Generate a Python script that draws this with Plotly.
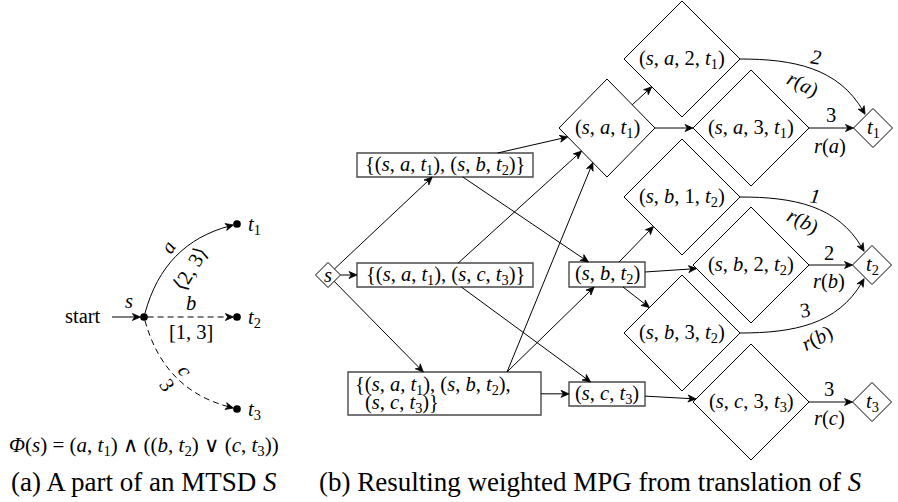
import math
import plotly.graph_objects as go

W, H = 898, 502
FONT = "Liberation Serif, DejaVu Serif, Times New Roman, serif"
NODE_FS = 20.5
FORM_FS = 21
CAP_FS = 27


def v(s):
    return f"<i>{s}</i>"


def t(i):
    return f"<i>t</i><sub>{i}</sub>"


# ---------------- (a) MTSD part ----------------
a_state_names = ["s", "t1", "t2", "t3"]
a_state_labels = ["", t(1), t(2), t(3)]
a_state_pos = {"s": (144, 317), "t1": (237, 224), "t2": (237, 317), "t3": (237, 409)}
a_trans_src = ["s", "s", "s"]
a_trans_dst = ["t1", "t2", "t3"]
a_trans_action = [v("a"), v("b"), v("c")]
a_trans_interval = ["⟨2, 3⟩", "[1, 3]", "3"]
a_trans_dashed = [False, True, True]
a_trans_bend = [30, 0, -30]
a_formula = (f"<i>Φ</i>({v('s')}) = ({v('a')}, {t(1)}) ∧ "
             f"(({v('b')}, {t(2)}) ∨ ({v('c')}, {t(3)}))")
caption_a = f"(a) A part of an MTSD {v('S')}"

# ---------------- (b) MPG ----------------
b_nodes = [
    ("s0", v("s"), "diamond"),
    ("B1", f"{{({v('s')}, {v('a')}, {t(1)}), ({v('s')}, {v('b')}, {t(2)})}}", "box"),
    ("B2", f"{{({v('s')}, {v('a')}, {t(1)}), ({v('s')}, {v('c')}, {t(3)})}}", "box"),
    ("B3", "", "box"),
    ("sat1", f"({v('s')}, {v('a')}, {t(1)})", "diamond"),
    ("sbt2", f"({v('s')}, {v('b')}, {t(2)})", "box"),
    ("sct3", f"({v('s')}, {v('c')}, {t(3)})", "box"),
    ("sa2", f"({v('s')}, {v('a')}, 2, {t(1)})", "diamond"),
    ("sa3", f"({v('s')}, {v('a')}, 3, {t(1)})", "diamond"),
    ("sb1", f"({v('s')}, {v('b')}, 1, {t(2)})", "diamond"),
    ("sb2", f"({v('s')}, {v('b')}, 2, {t(2)})", "diamond"),
    ("sb3", f"({v('s')}, {v('b')}, 3, {t(2)})", "diamond"),
    ("sc3", f"({v('s')}, {v('c')}, 3, {t(3)})", "diamond"),
    ("T1", t(1), "diamond"),
    ("T2", t(2), "diamond"),
    ("T3", t(3), "diamond"),
]
B3_lines = [f"{{({v('s')}, {v('a')}, {t(1)}), ({v('s')}, {v('b')}, {t(2)}),",
            f"({v('s')}, {v('c')}, {t(3)})}}"]

# layout of nodes: center x, center y, half width, half height
b_geom = {
    "s0": (328, 275, 12.5, 12.5),
    "B1": (445, 165, 88, 12),
    "B2": (445, 275, 88, 12),
    "B3": (444.5, 393.5, 96.5, 21.5),
    "sat1": (607, 128, 48, 49),
    "sbt2": (607, 274.5, 38, 12.5),
    "sct3": (607, 394, 38, 12),
    "sa2": (682, 59, 58, 58),
    "sa3": (751, 128, 58, 58),
    "sb1": (682, 197, 58, 58),
    "sb2": (751, 265, 58, 58),
    "sb3": (682, 333, 58, 58),
    "sc3": (751, 402, 58, 58),
    "T1": (873, 128, 19.5, 19.5),
    "T2": (872, 265, 19.5, 19.5),
    "T3": (872, 402, 19.5, 19.5),
}

b_edges = [
    ("s0", "B1"), ("s0", "B2"), ("s0", "B3"),
    ("B1", "sat1"), ("B1", "sbt2"),
    ("B2", "sat1"), ("B2", "sct3"),
    ("B3", "sat1"), ("B3", "sbt2"), ("B3", "sct3"),
    ("sat1", "sa2"), ("sat1", "sa3"),
    ("sbt2", "sb1"), ("sbt2", "sb2"), ("sbt2", "sb3"),
    ("sct3", "sc3"),
    ("sa3", "T1"), ("sb2", "T2"), ("sc3", "T3"),
]
# edges leaving B3 upward start from a point on its top side
B3_up_anchor = (507, 372)

b_curves = [("sa2", "T1", 0, 120), ("sb1", "T2", 0, 120), ("sb3", "T2", 0, -120)]

weight_labels = [
    # text, x, y, angle
    ("<i>2</i>", 816, 57, 8), (f"{v('r')}({v('a')})", 803, 84, 27),
    ("3", 831, 115, 0), (f"{v('r')}({v('a')})", 830, 146, 0),
    ("<i>1</i>", 815, 196, 8), (f"{v('r')}({v('b')})", 803, 221, 27),
    ("2", 829, 253, 0), (f"{v('r')}({v('b')})", 829, 281, 0),
    ("3", 805, 310, -8), (f"{v('r')}({v('b')})", 817, 338, -27),
    ("3", 829, 389, 0), (f"{v('r')}({v('c')})", 829, 418, 0),
]
caption_b = f"(b) Resulting weighted MPG from translation of {v('S')}"

# ---------------- helpers ----------------
shapes = []
annotations = []


def unit(dx, dy):
    L = math.hypot(dx, dy)
    return dx / L, dy / L


def boundary(geom, shape, toward):
    cx, cy, hw, hh = geom
    dx, dy = toward[0] - cx, toward[1] - cy
    if shape == "diamond":
        k = 1.0 / (abs(dx) / hw + abs(dy) / hh)
    elif shape == "box":
        k = 1.0 / max(abs(dx) / hw, abs(dy) / hh)
    else:  # dot
        k = hw / math.hypot(dx, dy)
    return cx + k * dx, cy + k * dy


def boundary_dir(geom, shape, ang):
    cx, cy = geom[0], geom[1]
    return boundary(geom, shape, (cx + 100 * math.cos(math.radians(ang)),
                                  cy - 100 * math.sin(math.radians(ang))))


def arrowhead(tip, u, L=8, w=3.5):
    ux, uy = u
    nx, ny = -uy, ux
    bx, by = tip[0] - L * ux, tip[1] - L * uy
    p1 = (bx + w * nx, by + w * ny)
    p2 = (tip[0] - (L - 2.3) * ux, tip[1] - (L - 2.3) * uy)
    p3 = (bx - w * nx, by - w * ny)
    path = (f"M{tip[0]:.2f},{tip[1]:.2f} L{p1[0]:.2f},{p1[1]:.2f} "
            f"L{p2[0]:.2f},{p2[1]:.2f} "
            f"L{p3[0]:.2f},{p3[1]:.2f} Z")
    shapes.append(dict(type="path", path=path, xref="x", yref="y",
                       fillcolor="black", line=dict(color="black", width=0.8)))


def straight(p0, p1, dash=None):
    u = unit(p1[0] - p0[0], p1[1] - p0[1])
    end = (p1[0] - 4 * u[0], p1[1] - 4 * u[1])
    ln = dict(color="black", width=1)
    if dash:
        ln["dash"] = dash
    shapes.append(dict(type="line", x0=p0[0], y0=p0[1], x1=end[0], y1=end[1],
                       xref="x", yref="y", line=ln))
    arrowhead(p1, u)


def cubic(p0, p3, out_ang, in_ang, dash=None):
    d = 0.3915 * math.hypot(p3[0] - p0[0], p3[1] - p0[1])
    c1 = (p0[0] + d * math.cos(math.radians(out_ang)), p0[1] - d * math.sin(math.radians(out_ang)))
    c2 = (p3[0] + d * math.cos(math.radians(in_ang)), p3[1] - d * math.sin(math.radians(in_ang)))
    ln = dict(color="black", width=1)
    if dash:
        ln["dash"] = dash
    u = unit(p3[0] - c2[0], p3[1] - c2[1])
    end = (p3[0] - 4 * u[0], p3[1] - 4 * u[1])
    path = (f"M{p0[0]:.2f},{p0[1]:.2f} C{c1[0]:.2f},{c1[1]:.2f} "
            f"{c2[0]:.2f},{c2[1]:.2f} {end[0]:.2f},{end[1]:.2f}")
    shapes.append(dict(type="path", path=path, xref="x", yref="y", line=ln))
    arrowhead(p3, u)


def text(s, x, y, size=NODE_FS, angle=0, xanchor="center"):
    annotations.append(dict(text=s, x=x, y=y, xref="x", yref="y", showarrow=False,
                            xanchor=xanchor, yanchor="middle", textangle=angle,
                            font=dict(family=FONT, size=size, color="black")))


# ---------------- draw (a) ----------------
DOT_R = 3.6
start_geom = (82.5, 317, 29.5, 8)
text("start", 82.5, 316, NODE_FS)
sp = a_state_pos["s"]
straight((start_geom[0] + start_geom[2], sp[1]), (sp[0] - DOT_R, sp[1]))
text(v("s"), 129, 301, NODE_FS)
for name, lab in zip(a_state_names, a_state_labels):
    if lab:
        x, y = a_state_pos[name]
        text(lab, x + 17, y + 1, NODE_FS)

for src, dst, dashed, bend in zip(a_trans_src, a_trans_dst, a_trans_dashed, a_trans_bend):
    p0c, p3c = a_state_pos[src], a_state_pos[dst]
    base = math.degrees(math.atan2(-(p3c[1] - p0c[1]), p3c[0] - p0c[0]))
    dash = "6px,4px" if dashed else None
    if bend == 0:
        straight((p0c[0] + DOT_R, p0c[1]), (p3c[0] - DOT_R, p3c[1]), dash)
    else:
        out_ang = base + bend
        in_ang = base + 180 - bend
        g0 = (p0c[0], p0c[1], DOT_R, DOT_R)
        g3 = (p3c[0], p3c[1], DOT_R, DOT_R)
        cubic(boundary_dir(g0, "dot", out_ang), boundary_dir(g3, "dot", in_ang),
              out_ang, in_ang, dash)

label_pos = [((168, 247, -58), (190, 269, -58)),
             ((191, 303, 0), (191, 332, 0)),
             ((185, 370, 57), (167, 385, 57))]
for act, itv, ((x1, y1, a1), (x2, y2, a2)) in zip(a_trans_action, a_trans_interval, label_pos):
    text(act, x1, y1, NODE_FS, a1)
    text(itv, x2, y2, NODE_FS, a2)

fig = go.Figure()
fig.add_trace(go.Scatter(x=[a_state_pos[n][0] for n in a_state_names],
                         y=[a_state_pos[n][1] for n in a_state_names],
                         mode="markers", marker=dict(size=2 * DOT_R + 0.5, color="black"),
                         hoverinfo="skip", showlegend=False))

text(a_formula, 144, 446, FORM_FS)
text(caption_a, 144, 482, CAP_FS)

# ---------------- draw (b) ----------------
shape_of = {n: s for n, _, s in b_nodes}
for name, lab, shp in b_nodes:
    cx, cy, hw, hh = b_geom[name]
    if shp == "diamond":
        path = f"M{cx-hw},{cy} L{cx},{cy-hh} L{cx+hw},{cy} L{cx},{cy+hh} Z"
        shapes.append(dict(type="path", path=path, xref="x", yref="y",
                           line=dict(color="black", width=1)))
    else:
        shapes.append(dict(type="rect", x0=cx - hw, x1=cx + hw, y0=cy - hh, y1=cy + hh,
                           xref="x", yref="y", line=dict(color="#4a4a4a", width=1.4)))
    if lab:
        text(lab, cx, cy, NODE_FS)

cx, cy, hw, hh = b_geom["B3"]
text(B3_lines[0], cx - hw + 5, cy - 8, NODE_FS, xanchor="left")
text(B3_lines[1], cx - hw + 15, cy + 10, NODE_FS, xanchor="left")

for src, dst in b_edges:
    gs, gd = b_geom[src], b_geom[dst]
    if src == "B3" and dst != "sct3":
        p0 = B3_up_anchor
    else:
        p0 = boundary(gs, shape_of[src], (gd[0], gd[1]))
    p1 = boundary(gd, shape_of[dst], p0 if src == "B3" else (gs[0], gs[1]))
    straight(p0, p1)

for src, dst, out_ang, in_ang in b_curves:
    p0 = boundary_dir(b_geom[src], shape_of[src], out_ang)
    p3 = boundary_dir(b_geom[dst], shape_of[dst], in_ang)
    p3 = (p3[0] + 1.5 * math.cos(math.radians(in_ang)), p3[1] - 1.5 * math.sin(math.radians(in_ang)))
    cubic(p0, p3, out_ang, in_ang)

for s, x, y, a in weight_labels:
    text(s, x, y, NODE_FS, a)

text(caption_b, 590, 482, CAP_FS)

fig.update_layout(
    width=W, height=H, margin=dict(l=0, r=0, t=0, b=0),
    paper_bgcolor="white", plot_bgcolor="white",
    xaxis=dict(range=[0, W], visible=False, fixedrange=True),
    yaxis=dict(range=[H, 0], visible=False, fixedrange=True),
    shapes=shapes, annotations=annotations, showlegend=False,
)
fig.write_html("out.html")
